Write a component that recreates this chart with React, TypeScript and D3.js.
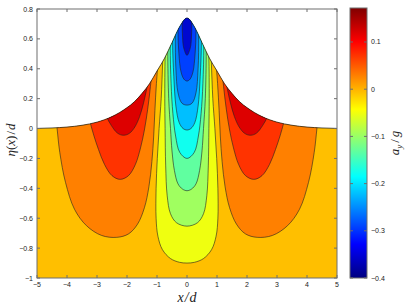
import React from "react";
import * as d3 from "d3";

const W = 407;
const H = 308;

// free surface eta(x)/d
const surfX = [-5, -4.5, -4, -3.5, -3, -2.5, -2, -1.75, -1.5, -1.25, -1, -0.75, -0.5, -0.25, 0, 0.25, 0.5, 0.75, 1, 1.25, 1.5, 1.75, 2, 2.5, 3, 3.5, 4, 4.5, 5];
const surfEta = [0.001, 0.004, 0.01, 0.022, 0.043, 0.08, 0.14, 0.18, 0.235, 0.3, 0.385, 0.47, 0.575, 0.68, 0.74, 0.68, 0.575, 0.47, 0.385, 0.3, 0.235, 0.18, 0.14, 0.08, 0.043, 0.022, 0.01, 0.004, 0.001];

// left-hand lobes of positive a_y (outer to inner), mirrored for x > 0
const lobeOrange = [[-4.38, 0.1], [-4.33, 0.0], [-4.24, -0.16], [-4.05, -0.36], [-3.75, -0.54], [-3.35, -0.65], [-2.85, -0.715], [-2.34, -0.728], [-1.95, -0.705], [-1.65, -0.64], [-1.42, -0.53], [-1.27, -0.39], [-1.17, -0.22], [-1.11, -0.05], [-1.07, 0.12], [-1.02, 0.3], [-0.96, 0.46]];
const lobeRedOrange = [[-3.3, 0.1], [-3.22, 0.035], [-3.1, -0.05], [-2.95, -0.14], [-2.75, -0.24], [-2.5, -0.315], [-2.23, -0.34], [-1.95, -0.315], [-1.72, -0.24], [-1.55, -0.13], [-1.42, -0.01], [-1.31, 0.13], [-1.22, 0.28], [-1.14, 0.45]];
const lobeRed = [[-2.76, 0.15], [-2.68, 0.08], [-2.52, 0.02], [-2.32, -0.03], [-2.12, -0.045], [-1.92, -0.032], [-1.74, 0.01], [-1.58, 0.08], [-1.45, 0.17], [-1.34, 0.27], [-1.25, 0.38]];

// left halves of the negative a_y contours under the crest (outer to inner)
const coreYellow = [[-0.78, 0.6], [-0.81, 0.45], [-0.86, 0.2], [-0.93, 0.0], [-0.99, -0.2], [-1.03, -0.4], [-1.03, -0.6], [-0.97, -0.72], [-0.82, -0.81], [-0.55, -0.87], [-0.25, -0.895], [0, -0.9]];
const coreGreen = [[-0.7, 0.65], [-0.73, 0.48], [-0.74, 0.2], [-0.73, 0], [-0.71, -0.25], [-0.66, -0.45], [-0.55, -0.57], [-0.35, -0.63], [0, -0.653]];
const coreAqua = [[-0.62, 0.7], [-0.64, 0.52], [-0.61, 0.2], [-0.55, 0], [-0.5, -0.15], [-0.42, -0.28], [-0.3, -0.37], [-0.15, -0.405], [0, -0.416]];
const coreCyan = [[-0.54, 0.72], [-0.56, 0.55], [-0.53, 0.3], [-0.47, 0.1], [-0.38, -0.05], [-0.24, -0.16], [0, -0.2]];
const coreSky = [[-0.46, 0.75], [-0.48, 0.58], [-0.44, 0.35], [-0.37, 0.15], [-0.26, 0.04], [-0.13, 0.0], [0, -0.01]];
const coreAzure = [[-0.37, 0.78], [-0.39, 0.62], [-0.37, 0.4], [-0.3, 0.24], [-0.17, 0.17], [0, 0.157]];
const coreBlue = [[-0.28, 0.8], [-0.3, 0.65], [-0.27, 0.5], [-0.2, 0.38], [-0.1, 0.33], [0, 0.318]];
const coreNavy = [[-0.15, 0.8], [-0.16, 0.7], [-0.15, 0.62], [-0.11, 0.54], [0, 0.49]];

const bgColor = "#FFBF00";
const lobeColors = ["#FF8000", "#FF3300", "#DD0000"];
const coreColors = ["#EFFF10", "#A0FF60", "#60FFA0", "#10FFEF", "#00BFFF", "#0080FF", "#0040FF", "#0008D0"];

const xTicks = [-5, -4, -3, -2, -1, 0, 1, 2, 3, 4, 5];
const yTicks = [0.8, 0.6, 0.4, 0.2, 0, -0.2, -0.4, -0.6, -0.8, -1];
const cbTicks = [0.1, 0, -0.1, -0.2, -0.3, -0.4];
const cbDomain = [-0.4, 0.172];

const jetStops = [
  [0, "#000080"],
  [0.125, "#0000FF"],
  [0.375, "#00FFFF"],
  [0.625, "#FFFF00"],
  [0.875, "#FF0000"],
  [1, "#800000"]
];

const fmt = (v: number) => String(v).replace("-", "\u2212");

export default function App() {
  const L = 37, R = 337, T = 9, B = 278;
  const x = d3.scaleLinear().domain([-5, 5]).range([L, R]);
  const y = d3.scaleLinear().domain([-1, 0.8]).range([B, T]);
  const cb = d3.scaleLinear().domain(cbDomain).range([B, T - 1]);

  const surf = surfX.map((v, i) => [v, surfEta[i]] as [number, number]);
  const surfLine = d3.line<[number, number]>().x(d => x(d[0])).y(d => y(d[1])).curve(d3.curveMonotoneX);
  const surfArea = d3.area<[number, number]>().x(d => x(d[0])).y0(y(-1)).y1(d => y(d[1])).curve(d3.curveMonotoneX);

  const cline = d3.line<number[]>().x(d => x(d[0])).y(d => y(d[1])).curve(d3.curveCatmullRom.alpha(0.5));

  const mirror = (pts: number[][]) => pts.map(([a, b]) => [-a, b]);
  const fullU = (half: number[][]) => half.concat(half.slice(0, -1).reverse().map(([a, b]) => [-a, b]));

  const region = (pts: number[][]) => {
    const a = pts[0], z = pts[pts.length - 1];
    return `${cline(pts)} L${x(z[0])},${y(0.85)} L${x(a[0])},${y(0.85)} Z`;
  };

  const shapes: { pts: number[][]; color: string }[] = [];
  [lobeOrange, lobeRedOrange, lobeRed].forEach((p, i) => {
    shapes.push({ pts: p, color: lobeColors[i] });
    shapes.push({ pts: mirror(p), color: lobeColors[i] });
  });
  [coreYellow, coreGreen, coreAqua, coreCyan, coreSky, coreAzure, coreBlue, coreNavy].forEach((p, i) => {
    shapes.push({ pts: fullU(p), color: coreColors[i] });
  });

  const axisColor = "#6e6e6e";
  const tl = 3;

  return (
    <svg width={W} height={H} style={{ position: "absolute", left: 0, top: 0 }} fontFamily="'Liberation Sans', Arial, sans-serif">
      <defs>
        <clipPath id="under">
          <path d={surfArea(surf)!} />
        </clipPath>
        <linearGradient id="jet" x1="0" y1="1" x2="0" y2="0">
          {jetStops.map(([o, c]) => (
            <stop key={o as number} offset={o as number} stopColor={c as string} />
          ))}
        </linearGradient>
      </defs>
      <rect width={W} height={H} fill="#fff" />

      <g clipPath="url(#under)">
        <rect x={L} y={T} width={R - L} height={B - T} fill={bgColor} />
        {shapes.map((s, i) => (
          <path key={"f" + i} d={region(s.pts)} fill={s.color} stroke="none" />
        ))}
        {shapes.map((s, i) => (
          <path key={"s" + i} d={cline(s.pts)!} fill="none" stroke="#222" strokeWidth={0.6} />
        ))}
      </g>
      <path d={surfLine(surf)!} fill="none" stroke="#111" strokeWidth={0.7} />

      {/* axes box */}
      <rect x={L} y={T} width={R - L} height={B - T} fill="none" stroke={axisColor} strokeWidth={1} />
      {xTicks.map(v => (
        <g key={"x" + v}>
          <line x1={x(v)} x2={x(v)} y1={B} y2={B - tl} stroke={axisColor} />
          <line x1={x(v)} x2={x(v)} y1={T} y2={T + tl} stroke={axisColor} />
          <text x={x(v)} y={B + 9} fontSize={7} textAnchor="middle" fill="#222">{fmt(v)}</text>
        </g>
      ))}
      {yTicks.map(v => (
        <g key={"y" + v}>
          <line x1={L} x2={L + tl} y1={y(v)} y2={y(v)} stroke={axisColor} />
          <line x1={R} x2={R - tl} y1={y(v)} y2={y(v)} stroke={axisColor} />
          <text x={L - 4} y={y(v) + 2.5} fontSize={7} textAnchor="end" fill="#222">{fmt(v)}</text>
        </g>
      ))}

      <text x={187} y={302} fontSize={14} fontFamily="'Liberation Serif', serif" fontStyle="italic" textAnchor="middle" fill="#222">
        x<tspan dx={1}>/</tspan><tspan dx={1}>d</tspan>
      </text>
      <text transform={`translate(15,${140}) rotate(-90)`} fontSize={13} fontFamily="'Liberation Serif', serif" textAnchor="middle" fill="#222">
        <tspan fontStyle="italic">η</tspan>(<tspan fontStyle="italic">x</tspan>)<tspan dx={1}>/</tspan><tspan dx={1} fontStyle="italic">d</tspan>
      </text>

      {/* colorbar */}
      <rect x={350} y={T - 1} width={17} height={B - T + 1} fill="url(#jet)" stroke={axisColor} strokeWidth={1} />
      {cbTicks.map(v => (
        <g key={"c" + v}>
          <line x1={367} x2={364} y1={cb(v)} y2={cb(v)} stroke={axisColor} />
          <line x1={350} x2={353} y1={cb(v)} y2={cb(v)} stroke={axisColor} />
          <text x={371} y={cb(v) + 2.5} fontSize={7} fill="#222">{fmt(v)}</text>
        </g>
      ))}
      <text transform={`translate(399,${143}) rotate(-90)`} fontSize={13} fontFamily="'Liberation Serif', serif" textAnchor="middle" fill="#222">
        <tspan fontStyle="italic">a</tspan><tspan fontSize={9} dy={3} fontStyle="italic">y</tspan><tspan dy={-3} dx={2}>/</tspan><tspan dx={2} fontStyle="italic">g</tspan>
      </text>
    </svg>
  );
}
